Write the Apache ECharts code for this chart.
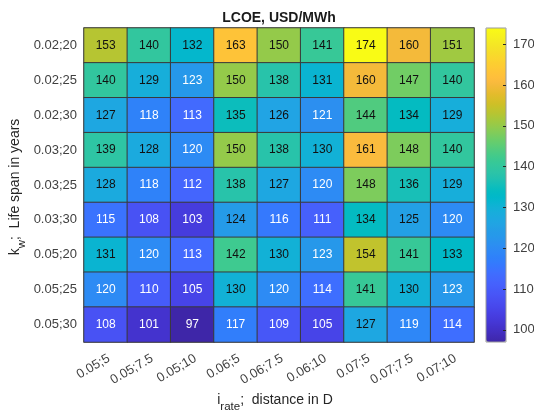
<!DOCTYPE html>
<html>
<head>
<meta charset="utf-8">
<script src="https://cdn.jsdelivr.net/npm/echarts@6/dist/echarts.min.js"></script>
<style>html,body{margin:0;padding:0;background:#fff;}#c{width:534px;height:410px;}</style>
</head>
<body>
<div id="c"></div>
<script>
// ---- data ----
const xCategories = ['0.05;5', '0.05;7.5', '0.05;10', '0.06;5', '0.06;7.5', '0.06;10', '0.07;5', '0.07;7.5', '0.07;10'];
const yCategories = ['0.02;20', '0.02;25', '0.02;30', '0.03;20', '0.03;25', '0.03;30', '0.05;20', '0.05;25', '0.05;30'];
const row_002_20 = [153, 140, 132, 163, 150, 141, 174, 160, 151];
const row_002_25 = [140, 129, 123, 150, 138, 131, 160, 147, 140];
const row_002_30 = [127, 118, 113, 135, 126, 121, 144, 134, 129];
const row_003_20 = [139, 128, 120, 150, 138, 130, 161, 148, 140];
const row_003_25 = [128, 118, 112, 138, 127, 120, 148, 136, 129];
const row_003_30 = [115, 108, 103, 124, 116, 111, 134, 125, 120];
const row_005_20 = [131, 120, 113, 142, 130, 123, 154, 141, 133];
const row_005_25 = [120, 110, 105, 130, 120, 114, 141, 130, 123];
const row_005_30 = [108, 101, 97, 117, 109, 105, 127, 119, 114];
const colorbarTicks = [100, 110, 120, 130, 140, 150, 160, 170];
const colorMin = 97;
const colorMax = 174;

// ---- style ----
const parula = [
[0.2422,0.1504,0.6603],[0.2504,0.1650,0.7076],[0.2578,0.1818,0.7511],[0.2647,0.1978,0.7952],
[0.2706,0.2147,0.8364],[0.2751,0.2342,0.8710],[0.2783,0.2559,0.8991],[0.2803,0.2782,0.9221],
[0.2813,0.3006,0.9414],[0.2810,0.3228,0.9579],[0.2795,0.3447,0.9717],[0.2760,0.3667,0.9829],
[0.2699,0.3892,0.9906],[0.2602,0.4123,0.9952],[0.2440,0.4358,0.9988],[0.2206,0.4603,0.9973],
[0.1963,0.4847,0.9892],[0.1834,0.5074,0.9798],[0.1786,0.5289,0.9682],[0.1764,0.5499,0.9520],
[0.1687,0.5703,0.9359],[0.1540,0.5902,0.9218],[0.1460,0.6091,0.9079],[0.1380,0.6276,0.8973],
[0.1248,0.6459,0.8883],[0.1113,0.6635,0.8763],[0.0952,0.6798,0.8598],[0.0689,0.6948,0.8394],
[0.0297,0.7082,0.8163],[0.0036,0.7203,0.7917],[0.0067,0.7312,0.7660],[0.0433,0.7411,0.7394],
[0.0964,0.7500,0.7120],[0.1408,0.7584,0.6842],[0.1717,0.7670,0.6554],[0.1938,0.7758,0.6251],
[0.2161,0.7843,0.5923],[0.2470,0.7918,0.5567],[0.2906,0.7973,0.5188],[0.3406,0.8008,0.4789],
[0.3909,0.8029,0.4354],[0.4456,0.8024,0.3909],[0.5044,0.7993,0.3480],[0.5616,0.7942,0.3045],
[0.6174,0.7876,0.2612],[0.6720,0.7793,0.2227],[0.7242,0.7698,0.1910],[0.7738,0.7598,0.1646],
[0.8203,0.7498,0.1535],[0.8634,0.7406,0.1596],[0.9035,0.7330,0.1774],[0.9393,0.7288,0.2100],
[0.9728,0.7298,0.2394],[0.9956,0.7434,0.2371],[0.9970,0.7659,0.2199],[0.9952,0.7893,0.2028],
[0.9892,0.8136,0.1885],[0.9786,0.8386,0.1766],[0.9676,0.8639,0.1643],[0.9610,0.8890,0.1537],
[0.9597,0.9135,0.1423],[0.9628,0.9373,0.1265],[0.9691,0.9606,0.1064],[0.9769,0.9839,0.0805]
].map(c => 'rgb(' + c.map(v => Math.round(v * 255)).join(',') + ')');

const rows = [row_002_20, row_002_25, row_002_30, row_003_20, row_003_25, row_003_30, row_005_20, row_005_25, row_005_30];
const cells = [];
rows.forEach((row, yi) => {
  row.forEach((v, xi) => {
    cells.push({ value: [xi, yi, v], label: { color: v < 124 ? '#ffffff' : '#111111' } });
  });
});

const FONT = 'Liberation Sans';
function nameStyle(padRight) {
  return {
    fontFamily: FONT, fontSize: 14, color: '#262626', padding: [0, padRight, 0, 0],
    rich: { sub: { fontFamily: FONT, fontSize: 11.5, color: '#262626', verticalAlign: 'bottom', lineHeight: 26 } }
  };
}
const chart = echarts.init(document.getElementById('c'), null, { renderer: 'canvas' });
chart.setOption({
  animation: false,
  backgroundColor: '#ffffff',
  textStyle: { fontFamily: FONT },
  title: {
    text: 'LCOE, USD/MWh', left: 279, top: 11, textAlign: 'center', padding: 0,
    textStyle: { fontFamily: FONT, fontSize: 14, fontWeight: 'bold', color: '#1a1a1a' }
  },
  grid: [
    { left: 84, top: 28, width: 390, height: 314, show: true, borderColor: '#c4c4c4', borderWidth: 2, backgroundColor: 'transparent', containLabel: false, outerBoundsMode: 'none' },
    { left: 486, top: 28, width: 20, height: 314, show: true, borderColor: '#9a9a9a', borderWidth: 1, backgroundColor: 'transparent', z: 10, containLabel: false, outerBoundsMode: 'none' }
  ],
  xAxis: [
    {
      type: 'category', data: xCategories, gridIndex: 0,
      axisLine: { show: false }, axisTick: { show: false }, splitLine: { show: false },
      axisLabel: { interval: 0, rotate: 30, margin: 10, align: 'right', verticalAlign: 'top', fontSize: 13, color: '#404040', fontFamily: FONT },
      name: 'i{sub|rate};  distance in D', nameLocation: 'middle', nameGap: 45, nameMoveOverlap: false,
      nameTextStyle: nameStyle(8)
    },
    { type: 'value', gridIndex: 1, show: false }
  ],
  yAxis: [
    {
      type: 'category', data: yCategories, inverse: true, gridIndex: 0,
      axisLine: { show: false }, axisTick: { show: false }, splitLine: { show: false },
      axisLabel: { interval: 0, margin: 7, fontSize: 13, color: '#404040', fontFamily: FONT },
      name: 'k{sub|w};  Life span in years', nameLocation: 'middle', nameGap: 56, nameRotate: 90, nameMoveOverlap: false,
      nameTextStyle: nameStyle(4)
    },
    {
      type: 'value', gridIndex: 1, min: colorMin, max: colorMax, position: 'right', z: 10,
      axisLine: { show: false }, splitLine: { show: false },
      axisTick: { show: false },
      axisLabel: { customValues: colorbarTicks, margin: 7, fontSize: 13, color: '#404040', fontFamily: FONT }
    },
    {
      type: 'value', gridIndex: 1, min: colorMin, max: colorMax, position: 'left', offset: -20, z: 10,
      axisLine: { show: false }, splitLine: { show: false },
      axisTick: { show: true, inside: false, length: 3, customValues: colorbarTicks, lineStyle: { color: '#262626', width: 1 } },
      axisLabel: { show: false }
    }
  ],
  visualMap: {
    type: 'continuous', min: colorMin, max: colorMax, seriesIndex: 0,
    left: 486, top: 28, itemWidth: 20, itemHeight: 314, padding: 0,
    calculable: false, hoverLink: false, orient: 'vertical',
    inRange: { color: parula }
  },
  series: [{
    type: 'heatmap', xAxisIndex: 0, yAxisIndex: 0, data: cells,
    label: { show: true, fontSize: 12, fontFamily: FONT },
    itemStyle: { borderColor: '#3a3a3a', borderWidth: 1 },
    emphasis: { disabled: true }
  }]
});
</script>
</body>
</html>
